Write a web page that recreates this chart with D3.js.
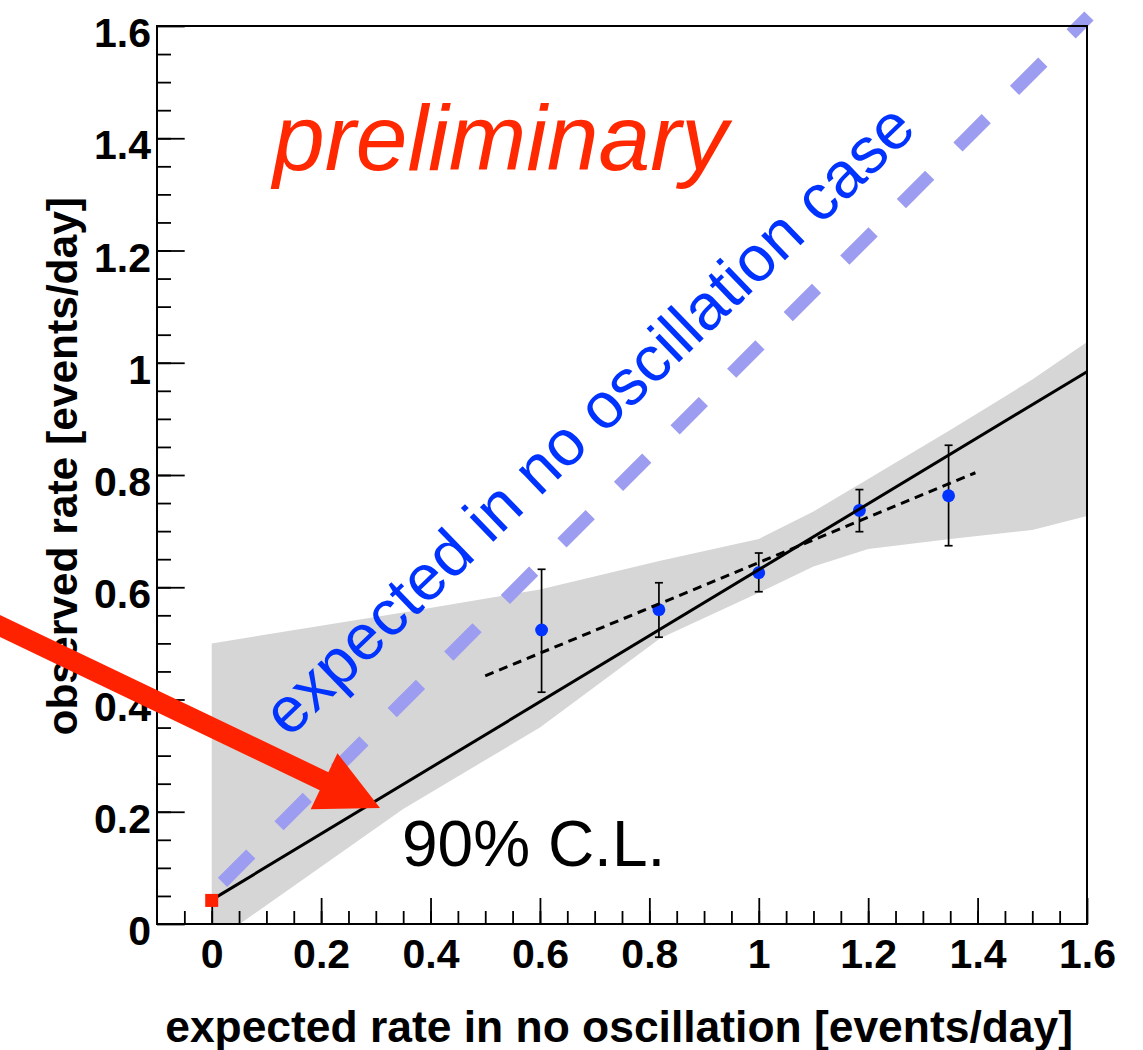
<!DOCTYPE html>
<html><head><meta charset="utf-8">
<script src="https://cdn.jsdelivr.net/npm/d3@7"></script>
<style>body{margin:0;background:#fff} svg{display:block}</style>
</head><body>
<svg id="chart" width="1143" height="1050"></svg>
<script>
// ---------- data ----------
const xDomain = [-0.1, 1.6];
const yDomain = [0, 1.6];
const xMajorTicks = [0, 0.2, 0.4, 0.6, 0.8, 1.0, 1.2, 1.4, 1.6];
const xTickLabels = ["0", "0.2", "0.4", "0.6", "0.8", "1", "1.2", "1.4", "1.6"];
const yMajorTicks = [0, 0.2, 0.4, 0.6, 0.8, 1.0, 1.2, 1.4, 1.6];
const yTickLabels = ["0", "0.2", "0.4", "0.6", "0.8", "1", "1.2", "1.4", "1.6"];
const minorStep = 0.05;

// measured points (expected vs observed)
const pointX   = [0.603, 0.8175, 1.000, 1.184, 1.347];
const pointY   = [0.524, 0.560, 0.626, 0.737, 0.763];
const errLow   = [0.413, 0.511, 0.592, 0.699, 0.674];
const errHigh  = [0.632, 0.608, 0.661, 0.774, 0.853];

// 90% C.L. band
const bandX    = [0,     0.35,  0.6,   0.82,  1.0,   1.1,   1.2,   1.35,  1.5,   1.6];
const bandHigh = [0.500, 0.555, 0.596, 0.647, 0.686, 0.735, 0.793, 0.880, 0.970, 1.037];
const bandLow  = [-0.035,0.205, 0.350, 0.509, 0.590, 0.637, 0.668, 0.686, 0.702, 0.727];

// best-fit line through background point
const fitX = [0, 1.6];
const fitY = [0.043, 0.984];
// local fit to the points (dotted)
const localFitX = [0.5, 1.396];
const localFitY = [0.442, 0.804];
// expected in no oscillation case
const noOscX = [0.0197, 1.6036];
const noOscY = [0.0743, 1.6178];
// background point (red square)
const bgX = [0];
const bgY = [0.042];
// red arrow (tail, tip)
const arrowX = [-0.4235, 0.3076];
const arrowY = [0.548, 0.2067];

const xTitle = "expected rate in no oscillation [events/day]";
const yTitle = "observed rate [events/day]";
const noOscLabel = "expected in no oscillation case";
const prelimLabel = "preliminary";
const clLabel = "90% C.L.";

// ---------- layout ----------
const L = 157, R = 1087, T = 26, B = 924;
const svg = d3.select("#chart");
const x = d3.scaleLinear().domain(xDomain).range([L, R]);
const y = d3.scaleLinear().domain(yDomain).range([B, T]);
const FONT = "'Liberation Sans', Arial, Helvetica, sans-serif";

svg.append("defs").append("clipPath").attr("id", "plotclip")
  .append("rect").attr("x", L).attr("y", T).attr("width", R - L).attr("height", B - T);

// band
const band = d3.area()
  .x((d, i) => x(bandX[i]))
  .y0((d, i) => y(bandLow[i]))
  .y1((d, i) => y(bandHigh[i]));
svg.append("path").datum(bandX).attr("d", band)
  .attr("fill", "#d6d6d6").attr("clip-path", "url(#plotclip)");

// expected (no oscillation) dashed line
const line2 = (xs, ys) => d3.line()(xs.map((v, i) => [x(v), y(ys[i])]));
svg.append("path").attr("d", line2(noOscX, noOscY))
  .attr("stroke", "#9c9cf0").attr("stroke-width", 13)
  .attr("stroke-dasharray", "40,40").attr("fill", "none");

// blue rotated label
svg.append("text").attr("transform", "translate(289,739) rotate(-44)")
  .attr("font-family", FONT).attr("font-size", 64.5).attr("fill", "#0033ff")
  .text(noOscLabel);

// error bars
const eb = svg.append("g").attr("stroke", "#000").attr("stroke-width", 1.7);
pointX.forEach((px, i) => {
  eb.append("line").attr("x1", x(px)).attr("x2", x(px)).attr("y1", y(errLow[i])).attr("y2", y(errHigh[i]));
  eb.append("line").attr("x1", x(px) - 4).attr("x2", x(px) + 4).attr("y1", y(errLow[i])).attr("y2", y(errLow[i]));
  eb.append("line").attr("x1", x(px) - 4).attr("x2", x(px) + 4).attr("y1", y(errHigh[i])).attr("y2", y(errHigh[i]));
});
// markers
svg.append("g").selectAll("circle").data(pointX).join("circle")
  .attr("cx", d => x(d)).attr("cy", (d, i) => y(pointY[i])).attr("r", 6.4)
  .attr("fill", "#0033ff");

// fit lines
svg.append("path").attr("d", line2(fitX, fitY))
  .attr("stroke", "#000").attr("stroke-width", 3).attr("fill", "none");
svg.append("path").attr("d", line2(localFitX, localFitY))
  .attr("stroke", "#000").attr("stroke-width", 3).attr("stroke-dasharray", "9,6").attr("fill", "none");

// axes
const axStyle = g => {
  g.select(".domain").remove();
  g.selectAll(".tick line").attr("stroke", "#000").attr("stroke-width", 1.8);
  g.selectAll("text").attr("font-family", FONT).attr("font-weight", "bold")
    .attr("font-size", 41).attr("fill", "#000");
};
const xMinor = d3.range(Math.round(xDomain[0] / minorStep) + 1, Math.round(xDomain[1] / minorStep))
  .map(k => k * minorStep);
const yMinor = d3.range(Math.round(yDomain[0] / minorStep) + 1, Math.round(yDomain[1] / minorStep))
  .map(k => k * minorStep);

svg.append("g").attr("transform", `translate(0,${B})`)
  .call(d3.axisBottom(x).tickValues(xMinor).tickSize(-13).tickFormat("")).call(axStyle);
svg.append("g").attr("transform", `translate(0,${B})`)
  .call(d3.axisBottom(x).tickValues(xMajorTicks).tickSize(-26).tickPadding(15)
    .tickFormat((d, i) => xTickLabels[i])).call(axStyle);
svg.append("g").attr("transform", `translate(${L},0)`)
  .call(d3.axisLeft(y).tickValues(yMinor).tickSize(-14).tickFormat("")).call(axStyle);
const yg = svg.append("g").attr("transform", `translate(${L},0)`)
  .call(d3.axisLeft(y).tickValues(yMajorTicks).tickSize(-27.7).tickPadding(6)
    .tickFormat((d, i) => yTickLabels[i])).call(axStyle);
yg.selectAll("text").attr("dy", "0.5em");

// frame
svg.append("rect").attr("x", L).attr("y", T).attr("width", R - L).attr("height", B - T)
  .attr("fill", "none").attr("stroke", "#000").attr("stroke-width", 2);

// titles
svg.append("text").attr("x", 1073).attr("y", 1042).attr("text-anchor", "end")
  .attr("font-family", FONT).attr("font-weight", "bold").attr("font-size", 44.4)
  .text(xTitle);
svg.append("text").attr("transform", "translate(77,197) rotate(-90)").attr("text-anchor", "end")
  .attr("font-family", FONT).attr("font-weight", "bold").attr("font-size", 42.5)
  .text(yTitle);

// other labels
svg.append("text").attr("x", 273).attr("y", 170)
  .attr("font-family", FONT).attr("font-style", "italic").attr("font-size", 93)
  .attr("fill", "#ff2800").text(prelimLabel);
svg.append("text").attr("x", 402).attr("y", 866)
  .attr("font-family", FONT).attr("font-size", 64).attr("fill", "#000").text(clLabel);

// background point
svg.append("g").selectAll("rect").data(bgX).join("rect")
  .attr("x", d => x(d) - 6.5).attr("y", (d, i) => y(bgY[i]) - 6.5)
  .attr("width", 13).attr("height", 13).attr("fill", "#ff2200");

// red arrow
(function () {
  const x0 = x(arrowX[0]), y0 = y(arrowY[0]), x1 = x(arrowX[1]), y1 = y(arrowY[1]);
  const len = Math.hypot(x1 - x0, y1 - y0);
  const ux = (x1 - x0) / len, uy = (y1 - y0) / len;
  const px = -uy, py = ux;
  const headL = 62, headW = 31, shaftW = 10;
  const bx = x1 - ux * headL, by = y1 - uy * headL;
  const pts = [
    [x0 + px * shaftW, y0 + py * shaftW],
    [bx + px * shaftW, by + py * shaftW],
    [bx + px * headW, by + py * headW],
    [x1, y1],
    [bx - px * headW, by - py * headW],
    [bx - px * shaftW, by - py * shaftW],
    [x0 - px * shaftW, y0 - py * shaftW]
  ];
  svg.append("path").attr("d", d3.line()(pts) + "Z").attr("fill", "#ff2200");
})();
</script>
</body></html>
